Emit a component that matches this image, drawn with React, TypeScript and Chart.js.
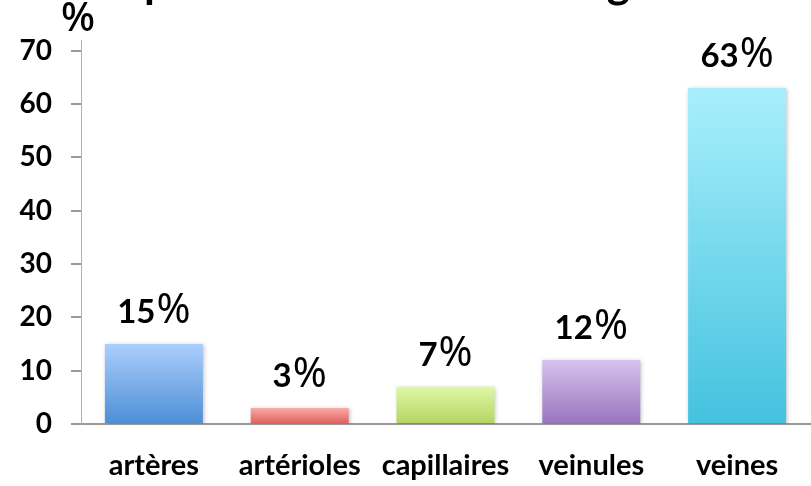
import React, { useEffect, useRef } from "react";
import { Chart, registerables } from "chart.js";

Chart.register(...registerables);

const categories = ["artères", "artérioles", "capillaires", "veinules", "veines"];
const values = [15, 3, 7, 12, 63];
const valueLabels = ["15", "3", "7", "12", "63"];
const topColors = ["#abcffc", "#f9aaa8", "#e0f8a6", "#d6c2ef", "#a8effc"];
const bottomColors = ["#4d8ed6", "#df605b", "#b2d462", "#9874bd", "#44c2df"];
const yTicks = [0, 10, 20, 30, 40, 50, 60, 70];
const titleText = "Répartition du volume sanguin";
const unitText = "%";

const FONT = "Lato, 'Open Sans', sans-serif";
const PCT_FONT = "'Noto Sans', 'DejaVu Sans', sans-serif";

export default function App() {
  const ref = useRef<HTMLCanvasElement | null>(null);

  useEffect(() => {
    document.body.style.margin = "0";
    const canvas = ref.current;
    if (!canvas) return;

    const overlay = {
      id: "overlay",
      afterDatasetsDraw(chart: any) {
        const ctx = chart.ctx;
        const meta = chart.getDatasetMeta(0);
        ctx.save();
        ctx.fillStyle = "#000";
        ctx.textBaseline = "alphabetic";
        ctx.textAlign = "left";
        const digitFont = `bold 33px ${FONT}`;
        const pctFont = `400 41px ${PCT_FONT}`;
        meta.data.forEach((bar: any, i: number) => {
          ctx.font = digitFont;
          const dw = ctx.measureText(valueLabels[i]).width;
          ctx.font = pctFont;
          const pw = ctx.measureText("%").width;
          const gap = 1;
          const start = bar.x - (dw + gap + pw) / 2;
          const base = bar.y - 21;
          ctx.font = digitFont;
          ctx.fillText(valueLabels[i], start, base);
          ctx.font = pctFont;
          ctx.fillText("%", start + dw + gap, base);
        });
        // unit label
        const ca = chart.chartArea;
        ctx.font = `500 40px ${PCT_FONT}`;
        ctx.textAlign = "center";
        ctx.fillText(unitText, ca.left - 3, 31);
        // title (cut off at top)
        ctx.font = `bold 44px ${FONT}`;
        ctx.textAlign = "left";
        const pre = ctx.measureText("Ré").width;
        ctx.fillText(titleText, ca.left + 63 - pre, -2);
        ctx.restore();
      },
    };

    const shadow = {
      id: "shadow",
      beforeDatasetsDraw(chart: any) {
        const ctx = chart.ctx;
        ctx.save();
        ctx.shadowColor = "rgba(0,0,0,0.25)";
        ctx.shadowBlur = 4;
        ctx.shadowOffsetX = 1;
        ctx.shadowOffsetY = 1;
      },
      afterDatasetsDraw(chart: any) {
        chart.ctx.restore();
      },
    };

    const chart = new Chart(canvas, {
      type: "bar",
      data: {
        labels: categories,
        datasets: [
          {
            data: values,
            backgroundColor: (c: any) => {
              const ch = c.chart;
              const ca = ch.chartArea;
              const i = c.dataIndex;
              if (!ca || i === undefined) return bottomColors[i ?? 0];
              const ys = ch.scales.y;
              const top = ys.getPixelForValue(values[i]);
              const bot = ys.getPixelForValue(0);
              const g = ch.ctx.createLinearGradient(0, top, 0, bot);
              g.addColorStop(0, topColors[i]);
              g.addColorStop(1, bottomColors[i]);
              return g;
            },
            borderWidth: 0,
            barPercentage: 0.672,
            categoryPercentage: 1,
          },
        ],
      },
      options: {
        animation: false,
        responsive: false,
        maintainAspectRatio: false,
        layout: { padding: { top: 40, left: 8, right: 1, bottom: 0 } },
        plugins: {
          legend: { display: false },
          title: { display: false },
          tooltip: { enabled: false },
        },
        scales: {
          x: {
            grid: { display: false, drawTicks: false },
            border: { display: true, color: "#9a9a9a", width: 2 },
            ticks: {
              color: "#000",
              font: { family: FONT, size: 29, weight: "bold" },
              padding: 24,
              maxRotation: 0,
            },
            afterFit: (s: any) => {
              s.height = 62;
            },
          },
          y: {
            min: 0,
            max: 72,
            afterBuildTicks: (s: any) => {
              s.ticks = yTicks.map((v) => ({ value: v }));
            },
            grid: {
              drawOnChartArea: false,
              drawTicks: true,
              tickLength: 10,
              color: "#9a9a9a",
              lineWidth: 2,
            },
            border: { display: true, color: "#b0b0b0", width: 1 },
            ticks: {
              color: "#000",
              font: { family: FONT, size: 28, weight: "bold" },
              padding: 19,
            },
            afterFit: (s: any) => {
              s.width = 73;
            },
          },
        },
      },
      plugins: [shadow, overlay],
    });

    return () => chart.destroy();
  }, []);

  return (
    <div
      style={{
        position: "fixed",
        left: 0,
        top: 0,
        width: 811,
        height: 486,
        overflow: "hidden",
        background: "#fff",
      }}
    >
      <canvas ref={ref} width={811} height={486} style={{ display: "block" }} />
    </div>
  );
}
